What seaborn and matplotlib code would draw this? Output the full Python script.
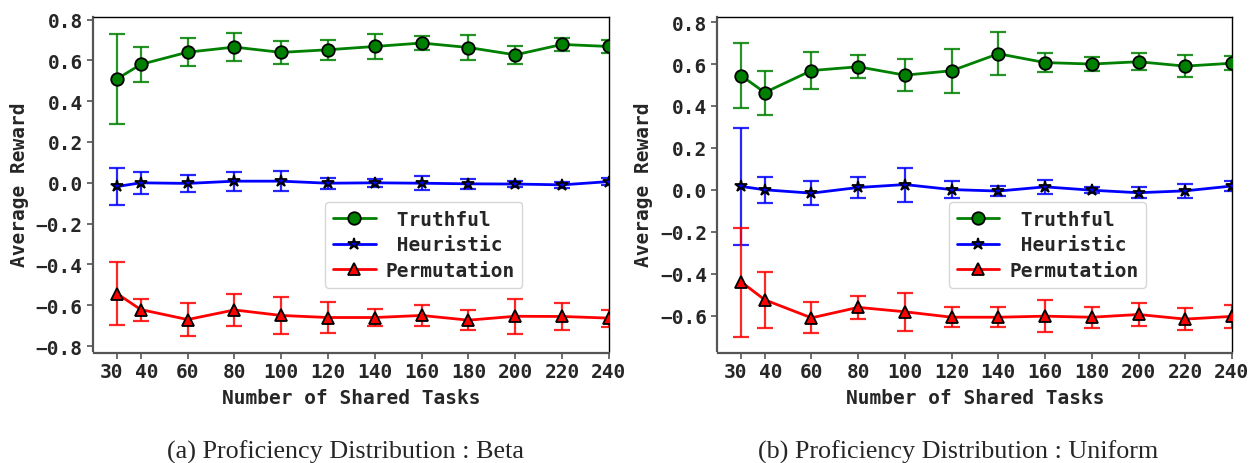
import numpy as np
import pandas as pd
import matplotlib
matplotlib.use("Agg")
import matplotlib.pyplot as plt
import seaborn as sns

# data
tasks = [30, 40, 60, 80, 100, 120, 140, 160, 180, 200, 220, 240]
series = [" Truthful", " Heuristic", "Permutation"]

beta_truthful = [0.51, 0.58, 0.64, 0.665, 0.639, 0.652, 0.668, 0.685, 0.663, 0.627, 0.678, 0.668]
beta_truthful_err = [0.22, 0.085, 0.07, 0.07, 0.057, 0.05, 0.062, 0.032, 0.06, 0.045, 0.034, 0.03]
beta_heuristic = [-0.018, 0.0, -0.003, 0.008, 0.008, -0.002, 0.0, -0.002, -0.005, -0.006, -0.01, 0.006]
beta_heuristic_err = [0.09, 0.053, 0.043, 0.046, 0.048, 0.027, 0.02, 0.033, 0.024, 0.016, 0.015, 0.018]
beta_perm = [-0.544, -0.621, -0.67, -0.623, -0.65, -0.66, -0.66, -0.65, -0.673, -0.654, -0.655, -0.663]
beta_perm_err = [0.155, 0.054, 0.083, 0.08, 0.089, 0.074, 0.044, 0.05, 0.05, 0.086, 0.065, 0.042]

uni_truthful = [0.544, 0.464, 0.569, 0.587, 0.547, 0.568, 0.649, 0.607, 0.6, 0.611, 0.59, 0.604]
uni_truthful_err = [0.155, 0.105, 0.089, 0.054, 0.078, 0.104, 0.103, 0.044, 0.034, 0.04, 0.053, 0.032]
uni_heuristic = [0.016, 0.0, -0.016, 0.011, 0.025, 0.001, -0.006, 0.014, -0.002, -0.014, -0.005, 0.018]
uni_heuristic_err = [0.278, 0.062, 0.056, 0.051, 0.081, 0.042, 0.025, 0.035, 0.015, 0.027, 0.034, 0.022]
uni_perm = [-0.44, -0.525, -0.611, -0.561, -0.582, -0.608, -0.608, -0.603, -0.608, -0.595, -0.617, -0.604]
uni_perm_err = [0.26, 0.135, 0.074, 0.054, 0.09, 0.049, 0.049, 0.076, 0.051, 0.053, 0.051, 0.055]

beta_ticks = [-0.8, -0.6, -0.4, -0.2, 0.0, 0.2, 0.4, 0.6, 0.8]
uni_ticks = [-0.6, -0.4, -0.2, 0.0, 0.2, 0.4, 0.6, 0.8]

captions = ["(a) Proficiency Distribution : Beta", "(b) Proficiency Distribution : Uniform"]

colors = {" Truthful": "g", " Heuristic": "b", "Permutation": "r"}
markers = {" Truthful": "o", " Heuristic": "*", "Permutation": "^"}

sns.set_style("white")
plt.rcParams["font.family"] = ["DejaVu Sans Mono"]
plt.rcParams["font.weight"] = "bold"
plt.rcParams["xtick.labelsize"] = 14
plt.rcParams["ytick.labelsize"] = 14


def make_df(vals, errs):
    rows = []
    for name, v, e in zip(series, vals, errs):
        for t, y, s in zip(tasks, v, e):
            rows.append({"tasks": t, "reward": y, "err": s, "method": name})
    return pd.DataFrame(rows)


def draw_panel(ax, df, yticks, ylim):
    for name in series:
        d = df[df["method"] == name]
        ax.errorbar(d["tasks"], d["reward"], yerr=d["err"], fmt="none",
                    ecolor=colors[name], elinewidth=1.6, capsize=6, capthick=1.6,
                    alpha=0.85, zorder=2)
    sns.lineplot(data=df, x="tasks", y="reward", hue="method", style="method",
                 palette=colors, markers=markers, dashes=False, lw=2,
                 markersize=9, markeredgecolor="black", markeredgewidth=1.3,
                 ax=ax, zorder=3)
    ax.set_xlim(20, 240)
    ax.set_ylim(*ylim)
    ax.set_xticks(tasks)
    # 30 and 40 sit close together, they get nudged apart below
    ax.set_xticklabels(["", ""] + [str(t) for t in tasks[2:]])
    for t, dx in zip(tasks[:2], [-4.0, 4.3]):
        ax.annotate(str(t), xy=(t, 0), xycoords=ax.get_xaxis_transform(),
                    xytext=(dx, -8), textcoords="offset points",
                    ha="center", va="top", fontsize=14, fontweight="bold")
    ax.set_yticks(yticks)
    ax.set_yticklabels([f"{t:.1f}".replace("-", "\u2212") for t in yticks])
    ax.tick_params(axis="both", which="both", left=True, bottom=True,
                   length=4, width=1.2, color="#555555", pad=3, labelsize=14)
    for lab in ax.get_xticklabels() + ax.get_yticklabels():
        lab.set_fontweight("bold")
    ax.set_xlabel("Number of Shared Tasks", fontsize=14, fontweight="bold", labelpad=5)
    ax.set_ylabel("Average Reward", fontsize=14, fontweight="bold", labelpad=5)
    for side in ["left", "bottom"]:
        ax.spines[side].set_color("#555555")
        ax.spines[side].set_linewidth(1.6)
        ax.spines[side].set_position(("outward", 1))
    for side in ["top", "right"]:
        ax.spines[side].set_color("black")
        ax.spines[side].set_linewidth(1.0)
    leg = ax.legend(loc="lower left", bbox_to_anchor=(0.43, 0.16), fontsize=14,
                    frameon=True, handlelength=2.2, borderpad=0.4,
                    labelspacing=0.35, handletextpad=0.5)
    leg.get_frame().set_edgecolor("#cccccc")
    for txt in leg.get_texts():
        txt.set_fontweight("bold")


fig = plt.figure(figsize=(12.52, 4.64), dpi=100)
ax1 = fig.add_axes([0.075, 0.241, 0.4114, 0.72])
ax2 = fig.add_axes([0.5735, 0.241, 0.4105, 0.72])

draw_panel(ax1, make_df([beta_truthful, beta_heuristic, beta_perm],
                        [beta_truthful_err, beta_heuristic_err, beta_perm_err]),
           beta_ticks, (-0.825, 0.812))
draw_panel(ax2, make_df([uni_truthful, uni_heuristic, uni_perm],
                        [uni_truthful_err, uni_heuristic_err, uni_perm_err]),
           uni_ticks, (-0.77, 0.824))

fig.text(0.2756, 0.03, captions[0], ha="center", va="center_baseline", fontsize=18.8,
         family="Liberation Serif", fontweight="normal")
fig.text(0.765, 0.03, captions[1], ha="center", va="center_baseline", fontsize=18.8,
         family="Liberation Serif", fontweight="normal")

fig.savefig("out.png", dpi=100)
